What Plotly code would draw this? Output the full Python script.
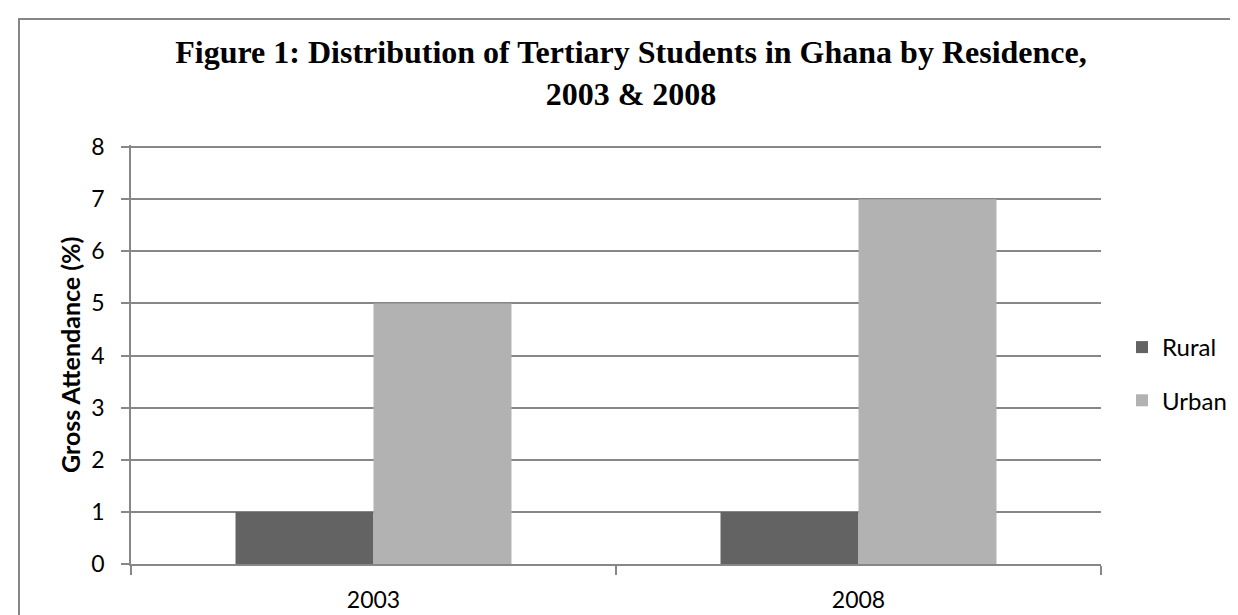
import plotly.graph_objects as go

years = ["2003", "2008"]
rural = [1, 1]
urban = [5, 7]
series_names = ["Rural", "Urban"]
y_ticks = [0, 1, 2, 3, 4, 5, 6, 7, 8]
y_top = 8.04

title_text = ("<b>Figure 1: Distribution of Tertiary Students in Ghana by Residence,"
              "<br>2003 &amp; 2008</b>")
y_title = "<b>Gross Attendance (%)</b>"

W, H = 1238, 615
L, R, T, B = 123, 145, 137, 59
pw, ph = W - L - R, H - T - B

def px_x(px):
    return (px - L) / pw

def px_y(py):
    return (H - B - py) / ph

grid = "#878787"
axis_font = dict(family="Lato, Open Sans, sans-serif", size=23, color="#000000")

fig = go.Figure()
fig.add_trace(go.Bar(x=years, y=rural, name=series_names[0],
                     marker=dict(color="#636363", line=dict(width=0)),
                     legendgroup="a"))
fig.add_trace(go.Bar(x=years, y=urban, name=series_names[1],
                     marker=dict(color="#b2b2b2", line=dict(width=0)),
                     legendgroup="b"))

fig.update_layout(
    width=W, height=H,
    margin=dict(l=L, r=R, t=T, b=B, autoexpand=False),
    paper_bgcolor="white", plot_bgcolor="white",
    barmode="group", bargap=0.431, bargroupgap=0,
    title=dict(text=title_text, x=623 / W, xanchor="center",
               y=1 - 55 / H, yanchor="top", yref="container",
               font=dict(family="Liberation Serif, Times New Roman, serif",
                         size=32, color="#000000")),
    legend=dict(x=px_x(1114), xanchor="left", y=px_y(366), yanchor="middle",
                font=dict(family="Lato, Open Sans, sans-serif", size=24, color="#000000"),
                tracegroupgap=19, traceorder="grouped",
                bgcolor="rgba(0,0,0,0)"),
    showlegend=True,
    font=axis_font,
)

fig.update_xaxes(
    type="category", showline=True, linecolor=grid, linewidth=1.5,
    ticks="outside", tickson="boundaries", ticklen=9, tickcolor=grid, tickwidth=1.5,
    showgrid=False, tickfont=axis_font, ticklabelstandoff=15, automargin=False,
)
fig.update_yaxes(
    range=[0, y_top], tickvals=y_ticks, showline=True, linecolor=grid, linewidth=1.5,
    ticks="outside", ticklen=8, tickcolor=grid, tickwidth=1.5,
    showgrid=True, gridcolor=grid, gridwidth=1.5, zeroline=False,
    tickfont=axis_font, ticklabelstandoff=12, automargin=False,
)

fig.add_annotation(text=y_title, xref="paper", yref="paper",
                   x=px_x(62), y=px_y(347), xanchor="center", yanchor="middle",
                   textangle=-90, showarrow=False,
                   font=dict(family="Lato, Open Sans, sans-serif", size=25, color="#000000"))

fig.add_shape(type="rect", xref="paper", yref="paper",
              x0=px_x(11), y0=px_y(700), x1=px_x(1300), y1=px_y(11),
              line=dict(color="#868686", width=2), fillcolor="rgba(0,0,0,0)",
              layer="below")

fig.write_html("out.html")
